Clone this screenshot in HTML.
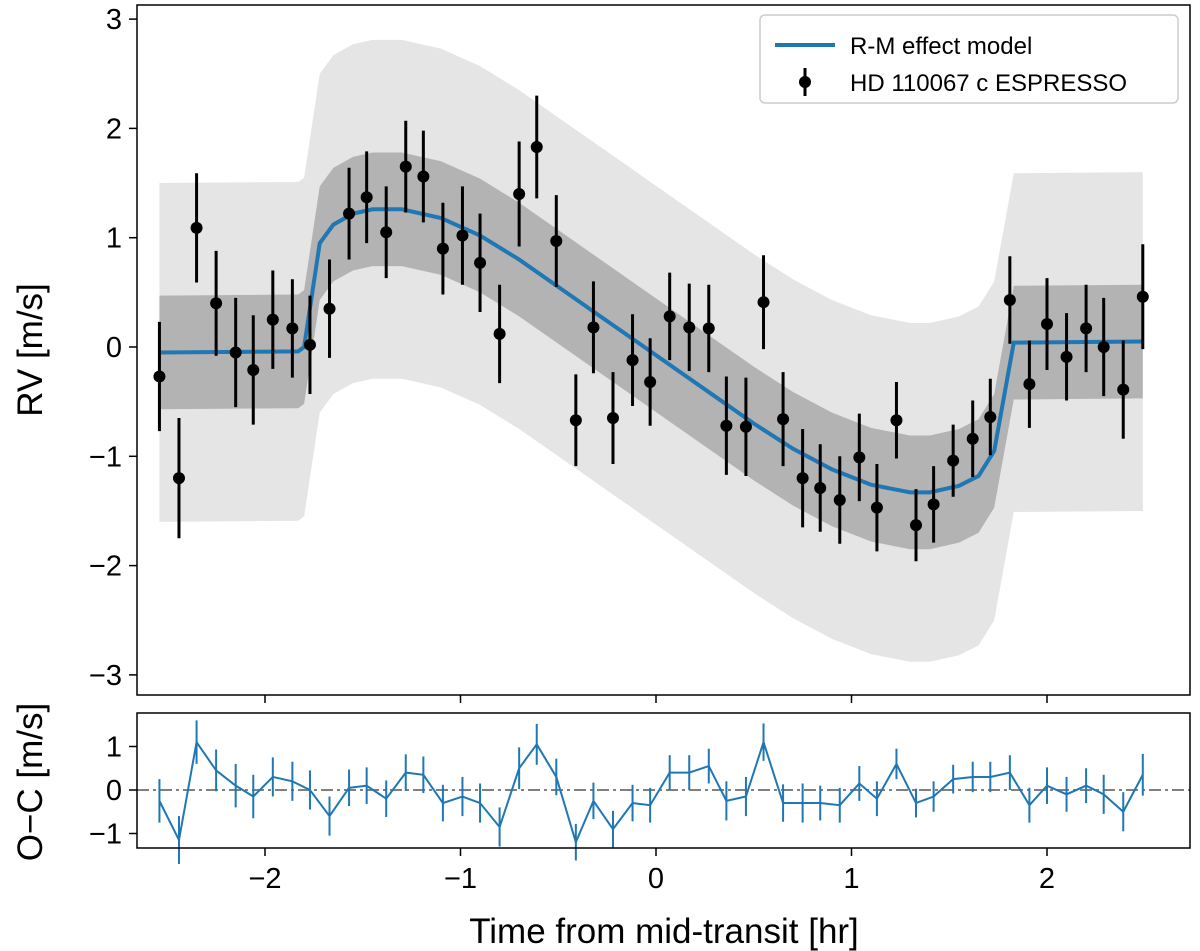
<!DOCTYPE html>
<html><head><meta charset="utf-8"><style>
body{margin:0;background:#fff}
svg{display:block;font-family:"Liberation Sans","DejaVu Sans",sans-serif}
</style></head><body>
<svg id="c" width="1200" height="951" viewBox="0 0 1200 951"></svg>
<script>
const times=[-2.54,-2.44,-2.35,-2.25,-2.15,-2.06,-1.96,-1.86,-1.77,-1.67,-1.57,-1.48,-1.38,-1.28,-1.19,-1.09,-0.99,-0.90,-0.80,-0.70,-0.61,-0.51,-0.41,-0.32,-0.22,-0.12,-0.03,0.07,0.17,0.27,0.36,0.46,0.55,0.65,0.75,0.84,0.94,1.04,1.13,1.23,1.33,1.42,1.52,1.62,1.71,1.81,1.91,2.00,2.10,2.20,2.29,2.39,2.49];
const rv=[-0.27,-1.20,1.09,0.40,-0.05,-0.21,0.25,0.17,0.02,0.35,1.22,1.37,1.05,1.65,1.56,0.90,1.02,0.77,0.12,1.40,1.83,0.97,-0.67,0.18,-0.65,-0.12,-0.32,0.28,0.18,0.17,-0.72,-0.73,0.41,-0.66,-1.20,-1.29,-1.40,-1.01,-1.47,-0.67,-1.63,-1.44,-1.04,-0.84,-0.64,0.43,-0.34,0.21,-0.09,0.17,0.00,-0.39,0.46];
const rvErr=[0.5,0.55,0.5,0.48,0.5,0.5,0.45,0.45,0.45,0.45,0.42,0.42,0.42,0.42,0.42,0.42,0.45,0.45,0.45,0.48,0.47,0.42,0.42,0.42,0.42,0.42,0.4,0.4,0.4,0.4,0.45,0.45,0.43,0.43,0.45,0.4,0.4,0.4,0.4,0.35,0.33,0.35,0.33,0.35,0.35,0.4,0.4,0.42,0.4,0.4,0.45,0.45,0.48];
const resid=[-0.25,-1.15,1.1,0.45,0.1,-0.15,0.3,0.2,0.0,-0.6,0.05,0.1,-0.2,0.4,0.35,-0.3,-0.15,-0.3,-0.85,0.5,1.05,0.3,-1.2,-0.25,-0.9,-0.3,-0.35,0.4,0.4,0.55,-0.25,-0.15,1.1,-0.3,-0.3,-0.3,-0.35,0.15,-0.2,0.6,-0.3,-0.15,0.25,0.3,0.3,0.4,-0.35,0.1,-0.1,0.1,-0.1,-0.5,0.35];
const modelT=[-2.54,-1.83,-1.80,-1.72,-1.65,-1.55,-1.45,-1.30,-1.1,-0.9,-0.7,-0.5,-0.3,-0.1,0.1,0.3,0.5,0.7,0.9,1.1,1.3,1.4,1.55,1.65,1.73,1.83,2.49];
const modelV=[-0.05,-0.04,0.0,0.95,1.12,1.22,1.26,1.26,1.18,1.02,0.8,0.55,0.3,0.05,-0.2,-0.45,-0.7,-0.93,-1.12,-1.26,-1.33,-1.33,-1.27,-1.18,-0.95,0.04,0.05];
const darkHalf=0.52, lightHalf=1.55;
const xTicks=[-2,-1,0,1,2], yTicks=[3,2,1,0,-1,-2,-3], rTicks=[1,0,-1];
const NS="http://www.w3.org/2000/svg", svg=document.getElementById('c');
const X=t=>656+t*195.5, Y=v=>347-v*109.3, R=v=>790-v*43.5;
function el(tag,a,p){const e=document.createElementNS(NS,tag);for(const k in a)e.setAttribute(k,a[k]);(p||svg).appendChild(e);return e;}
function band(h,fill,name){let up=modelT.map((t,i)=>X(t)+','+Y(modelV[i]+h));let lo=modelT.map((t,i)=>X(t)+','+Y(modelV[i]-h)).reverse();
const p=el('polygon',{points:up.concat(lo).join(' '),fill:fill});

}
band(lightHalf,'#e5e5e5','light-uncertainty-band');
band(darkHalf,'#b3b3b3','dark-uncertainty-band');
const m=el('polyline',{points:modelT.map((t,i)=>X(t)+','+Y(modelV[i])).join(' '),fill:'none',stroke:'#1f77b4','stroke-width':4});


times.forEach((t,i)=>{const g=el('g',{});


el('line',{x1:X(t),x2:X(t),y1:Y(rv[i]+rvErr[i]),y2:Y(rv[i]-rvErr[i]),stroke:'#000','stroke-width':3},g);
el('circle',{cx:X(t),cy:Y(rv[i]),r:6,fill:'#000'},g);});
const f1=el('rect',{x:137,y:5,width:1053,height:690,fill:'none',stroke:'#000','stroke-width':1.5});


const zl=el('line',{x1:137,x2:1190,y1:R(0),y2:R(0),stroke:'#808080','stroke-width':2,'stroke-dasharray':'12,4,3,4'});


const rl=el('polyline',{points:times.map((t,i)=>X(t)+','+R(resid[i])).join(' '),fill:'none',stroke:'#1f77b4','stroke-width':2});


times.forEach((t,i)=>{const e=el('line',{x1:X(t),x2:X(t),y1:R(resid[i]+rvErr[i]),y2:R(resid[i]-rvErr[i]),stroke:'#1f77b4','stroke-width':2});

});
const f2=el('rect',{x:137,y:713,width:1053,height:135,fill:'none',stroke:'#000','stroke-width':1.5});


yTicks.forEach(v=>{el('line',{x1:129,x2:137,y1:Y(v),y2:Y(v),stroke:'#000','stroke-width':1.5});
const tx=el('text',{x:122,y:Y(v)+10,'text-anchor':'end','font-size':29});tx.textContent=v<0?'\u2212'+(-v):v;

});
rTicks.forEach(v=>{el('line',{x1:129,x2:137,y1:R(v),y2:R(v),stroke:'#000','stroke-width':1.5});
const tx=el('text',{x:122,y:R(v)+10,'text-anchor':'end','font-size':29});tx.textContent=v<0?'\u2212'+(-v):v;

});
xTicks.forEach(v=>{el('line',{x1:X(v),x2:X(v),y1:695,y2:703,stroke:'#000','stroke-width':1.5});
el('line',{x1:X(v),x2:X(v),y1:848,y2:856,stroke:'#000','stroke-width':1.5});
const tx=el('text',{x:X(v),y:888,'text-anchor':'middle','font-size':29});tx.textContent=v<0?'\u2212'+(-v):v;

});
</script>
<div style="position:absolute;left:0;top:0;width:1200px;height:951px;pointer-events:none">
<svg width="1200" height="951" style="position:absolute;left:0;top:0;font-family:'Liberation Sans','DejaVu Sans',sans-serif">
<text transform="translate(42,350) rotate(-90)" text-anchor="middle" font-size="35">RV [m/s]</text>
<text transform="translate(42,782) rotate(-90)" text-anchor="middle" font-size="35">O−C [m/s]</text>
<text x="664" y="943" text-anchor="middle" font-size="35">Time from mid-transit [hr]</text>
<g>
<rect x="760" y="15" width="418" height="88" rx="5" fill="#fff" fill-opacity="0.85" stroke="#ccc" stroke-width="1.5"/>
<line x1="775" x2="835" y1="45" y2="45" stroke="#1f77b4" stroke-width="4"/>
<text x="850" y="54" font-size="24">R-M effect model</text>
<line x1="805" x2="805" y1="68" y2="96" stroke="#000" stroke-width="3"/>
<circle cx="805" cy="82" r="6" fill="#000"/>
<text x="850" y="91" font-size="24">HD 110067 c ESPRESSO</text>
</g>
</svg></div>
</body></html>
